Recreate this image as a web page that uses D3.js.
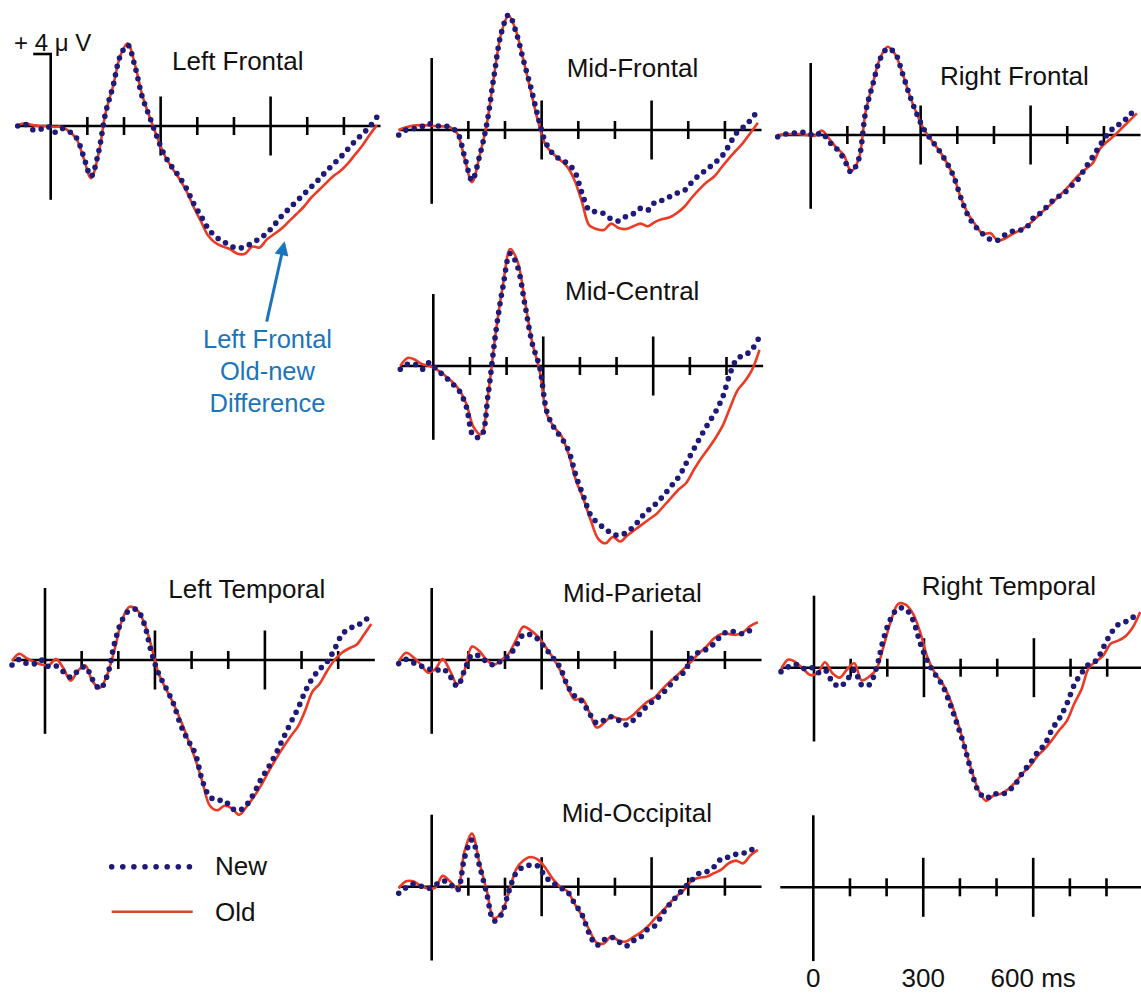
<!DOCTYPE html>
<html>
<head>
<meta charset="utf-8">
<script src="https://cdn.jsdelivr.net/npm/d3@7/dist/d3.min.js"></script>
<style>
  html, body { margin: 0; padding: 0; background: #fff; }
  svg { display: block; font-family: "Liberation Sans", Arial, Helvetica, sans-serif; }
</style>
</head>
<body>
<svg id="plot" width="1141" height="994"></svg>
<script>
// ---- Sample times (ms) shared by every waveform
const times = [-90, -70, -50, -30, -10, 10, 30, 50, 70, 90,
  110, 130, 150, 170, 190, 210, 230, 250, 270, 290,
  310, 330, 350, 370, 390, 410, 430, 450, 470, 490,
  510, 530, 550, 570, 590, 610, 630, 650, 670, 690,
  710, 730, 750, 770, 790, 810, 830, 850, 870, 890];

// ---- Amplitudes (µV, positive up)
const leftFrontalNew = [0.0, 0.1, -0.2, -0.2, 0.0, -0.35, -0.13, -0.3, -0.65, -1.7,
  -2.8, -1.5, 0.75, 2.2, 3.9, 4.5, 3.3, 1.6, 0.5, -0.6,
  -1.6, -2.25, -2.8, -3.45, -4.3, -5.0, -5.7, -6.15, -6.4, -6.65,
  -6.8, -6.7, -6.5, -6.25, -5.95, -5.5, -5.0, -4.6, -4.2, -3.8,
  -3.4, -3.0, -2.55, -2.15, -1.75, -1.3, -0.85, -0.45, -0.05, 0.5];
const leftFrontalOld = [0.05, 0.15, 0.05, 0.0, 0.0, -0.05, -0.05, -0.3, -0.7, -1.8,
  -2.9, -1.6, 0.75, 2.2, 3.9, 4.6, 3.4, 1.7, 0.5, -0.6,
  -1.6, -2.3, -2.9, -3.6, -4.5, -5.3, -6.1, -6.5, -6.7, -6.85,
  -7.1, -7.1, -6.7, -6.75, -6.3, -6.0, -5.7, -5.3, -4.9, -4.5,
  -4.0, -3.6, -3.2, -2.8, -2.5, -2.1, -1.6, -1.1, -0.5, 0.05];

const midFrontalNew = [-0.28, 0.0, 0.07, 0.15, 0.37, 0.22, 0.24, 0.15, -0.15, -1.5,
  -2.8, -1.5, 0.3, 3.0, 5.4, 6.4, 5.45, 3.9, 2.4, 0.75,
  -0.65, -1.3, -1.63, -1.85, -2.3, -3.5, -4.45, -4.55, -4.65, -4.95,
  -5.05, -4.8, -4.65, -4.35, -4.45, -4.0, -3.9, -3.7, -3.5, -3.35,
  -2.9, -2.5, -2.2, -1.85, -1.5, -0.9, -0.2, 0.15, 0.55, 1.1];
const midFrontalOld = [0.0, 0.15, 0.25, 0.27, 0.25, 0.22, 0.2, 0.15, -0.2, -1.6,
  -2.9, -1.5, 0.3, 3.0, 5.4, 6.35, 5.5, 3.9, 2.2, 0.5,
  -0.8, -1.3, -1.65, -2.05, -2.8, -4.0, -5.3, -5.5, -5.55, -5.2,
  -5.45, -5.5, -5.35, -5.2, -5.35, -5.1, -4.95, -4.85, -4.6, -4.25,
  -3.75, -3.3, -2.9, -2.6, -2.1, -1.6, -1.15, -0.7, -0.15, 0.4];

const rightFrontalNew = [-0.1, 0.05, 0.1, 0.13, 0.15, -0.05, 0.13, -0.37, -0.75, -1.3,
  -2.05, -1.4, 1.3, 2.85, 4.25, 4.8, 4.55, 3.45, 2.2, 1.15,
  0.28, -0.3, -0.85, -1.5, -2.3, -3.5, -4.5, -5.1, -5.5, -5.8,
  -5.85, -5.55, -5.35, -5.3, -5.1, -4.55, -4.3, -3.85, -3.5, -3.25,
  -2.85, -2.45, -1.8, -1.2, -0.55, 0.05, 0.45, 0.7, 1.1, 1.55];
const rightFrontalOld = [-0.05, 0.05, 0.05, 0.05, 0.0, -0.05, 0.25, -0.2, -0.7, -1.1,
  -2.0, -1.4, 1.3, 2.9, 4.3, 4.9, 4.5, 3.45, 2.2, 1.15,
  0.28, -0.3, -0.85, -1.5, -2.3, -3.5, -4.4, -5.0, -5.5, -5.45,
  -5.85, -5.75, -5.5, -5.3, -5.05, -4.7, -4.3, -3.95, -3.55, -3.15,
  -2.7, -2.25, -1.9, -1.55, -0.75, -0.35, 0.0, 0.4, 0.8, 1.2];

const midCentralNew = [-0.18, 0.1, 0.1, -0.18, 0.2, -0.22, -0.55, -0.95, -1.35, -2.25,
  -3.9, -3.9, -1.5, 1.8, 4.4, 6.25, 5.5, 3.4, 1.25, -0.05,
  -2.55, -3.45, -4.0, -4.75, -6.15, -7.25, -8.3, -8.75, -9.05, -9.35,
  -9.4, -9.2, -8.85, -8.35, -7.95, -7.6, -7.15, -6.65, -6.15, -5.4,
  -4.65, -3.9, -3.2, -2.55, -1.7, -0.4, 0.43, 0.6, 0.93, 1.63];
const midCentralOld = [0.0, 0.45, 0.35, 0.1, 0.0, -0.2, -0.5, -0.85, -1.3, -2.1,
  -3.4, -3.8, -1.5, 1.8, 4.5, 6.5, 5.8, 3.6, 1.3, -0.25,
  -2.7, -3.4, -3.9, -4.95, -6.4, -7.4, -8.6, -9.6, -9.85, -9.5,
  -9.75, -9.4, -9.1, -8.8, -8.5, -8.2, -7.75, -7.3, -6.85, -6.5,
  -5.8, -5.15, -4.6, -4.0, -3.3, -2.3, -1.35, -0.85, -0.2, 0.9];

const leftTemporalNew = [-0.28, 0.04, -0.2, -0.22, 0.0, -0.37, -0.33, -0.65, -0.95, -0.6,
  -0.37, -1.1, -1.6, -0.85, 0.95, 2.2, 2.75, 2.8, 2.05, 0.45,
  -0.75, -1.55, -2.4, -3.6, -4.45, -5.2, -6.75, -7.6, -7.8, -7.8,
  -8.25, -8.35, -8.05, -7.4, -6.6, -5.95, -5.2, -4.35, -3.5, -2.7,
  -1.75, -1.0, -0.5, -0.1, 0.6, 1.4, 1.75, 1.9, 2.15, 2.5];
const leftTemporalOld = [-0.05, 0.35, 0.1, -0.1, -0.25, -0.3, 0.05, -0.45, -1.15, -0.6,
  -0.3, -1.2, -1.55, -0.8, 0.6, 2.2, 2.95, 2.8, 2.1, 0.8,
  -0.75, -1.6, -2.4, -3.35, -4.4, -5.5, -6.8, -8.1, -8.35, -8.1,
  -8.25, -8.6, -8.15, -7.6, -6.95, -6.2, -5.5, -4.85, -4.25, -3.7,
  -2.8, -1.75, -1.3, -0.6, 0.0, 0.4, 0.65, 0.85, 1.4, 2.0];

const midParietalNew = [-0.2, 0.04, -0.15, -0.33, -0.48, -0.6, -0.48, -0.9, -1.45, -0.55,
  0.28, 0.22, -0.1, -0.28, -0.04, 0.22, 0.78, 1.4, 1.4, 1.15,
  0.65, 0.15, -0.4, -1.4, -2.0, -2.3, -2.95, -3.5, -3.35, -3.15,
  -3.35, -3.6, -3.35, -2.95, -2.5, -2.2, -1.85, -1.4, -0.95, -0.65,
  0.15, 0.45, 0.6, 0.9, 1.35, 1.6, 1.55, 1.45, 1.65, 1.65];
const midParietalOld = [-0.1, 0.4, 0.15, -0.25, -0.7, -0.5, 0.05, -0.6, -1.35, -0.55,
  0.75, 0.5, 0.0, -0.25, 0.0, 0.35, 1.1, 1.85, 1.65, 1.3,
  0.75, 0.15, -0.55, -1.45, -2.2, -2.15, -2.9, -3.75, -3.5, -3.15,
  -3.25, -3.3, -3.05, -2.65, -2.3, -2.05, -1.6, -1.2, -0.85, -0.45,
  -0.05, 0.4, 0.75, 1.2, 1.45, 1.45, 1.4, 1.55, 1.9, 2.1];

const rightTemporalNew = [-0.22, 0.05, 0.18, -0.04, 0.05, -0.28, -0.13, -0.78, -1.05, -0.68,
  -0.13, -0.96, -0.96, -0.04, 1.63, 2.75, 3.3, 3.25, 2.65, 1.35,
  0.33, -0.35, -0.96, -1.95, -3.1, -4.35, -5.8, -6.9, -7.25, -7.0,
  -7.05, -6.85, -6.45, -5.8, -5.3, -4.7, -4.25, -3.4, -2.8, -2.0,
  -0.96, -0.3, 0.2, 0.4, 1.15, 1.9, 2.4, 2.55, 2.8, 3.0];
const rightTemporalOld = [-0.1, 0.45, 0.3, -0.05, -0.4, -0.3, 0.3, -0.3, -0.55, -0.1,
  0.25, -0.7, -0.5, -0.1, 1.2, 2.6, 3.55, 3.5, 3.0, 1.95,
  0.55, -0.3, -0.85, -1.7, -2.9, -4.3, -5.7, -6.85, -7.4, -7.1,
  -7.0, -6.75, -6.35, -5.85, -5.45, -4.9, -4.5, -4.0, -3.45, -2.95,
  -2.0, -1.2, 0.0, 0.35, 0.7, 1.35, 1.5, 1.75, 2.25, 3.1];

const midOccipitalNew = [-0.37, -0.05, 0.15, 0.04, -0.1, 0.1, 0.33, 0.15, -0.2, 1.65,
  2.6, 1.2, -0.37, -1.9, -1.55, -0.28, 0.75, 1.1, 1.2, 1.15,
  0.55, 0.22, -0.05, -0.28, -0.93, -1.55, -2.6, -3.25, -2.95, -2.8,
  -3.05, -3.3, -3.0, -2.8, -2.35, -2.15, -1.5, -0.95, -0.5, -0.05,
  0.37, 0.75, 0.83, 1.1, 1.55, 1.65, 1.8, 1.85, 2.05, 2.05];
const midOccipitalOld = [-0.1, 0.3, 0.3, 0.05, -0.1, -0.05, 0.6, 0.3, -0.1, 2.0,
  2.95, 1.35, -0.2, -1.75, -1.45, -0.35, 0.95, 1.45, 1.65, 1.5,
  1.05, 0.45, 0.0, -0.25, -0.95, -1.6, -2.4, -3.1, -3.15, -2.75,
  -3.0, -3.05, -2.8, -2.55, -2.2, -1.75, -1.35, -0.9, -0.5, -0.15,
  0.35, 0.5, 0.55, 0.75, 0.95, 1.3, 1.45, 1.3, 1.75, 2.05];

// ---- Axis ticks and labels
const minorTicks = [100, 200, 400, 500, 700, 800];
const majorTicks = [300, 600];
const scaleTickValues = [0, 300, 600];
const scaleTickLabels = ['0', '300', '600 ms'];
const legendLabels = ['New', 'Old'];
const calibrationLabel = '+ 4 \u03bc V';
const annotationLines = ['Left Frontal', 'Old-new', 'Difference'];

// ---- Panel layout: zero-time x, baseline y, title placement
const panels = [
  { title: 'Left Frontal',   x0: 50.7,  y0: 126,   tx: 172,   ty: 70,    newV: leftFrontalNew,   oldV: leftFrontalOld },
  { title: 'Mid-Frontal',    x0: 431.7, y0: 130,   tx: 566.7, ty: 76.7,  newV: midFrontalNew,    oldV: midFrontalOld },
  { title: 'Right Frontal',  x0: 810.7, y0: 135,   tx: 940,   ty: 85,    newV: rightFrontalNew,  oldV: rightFrontalOld },
  { title: 'Mid-Central',    x0: 433.3, y0: 366,   tx: 565,   ty: 300,   newV: midCentralNew,    oldV: midCentralOld },
  { title: 'Left Temporal',  x0: 45,    y0: 660,   tx: 168.3, ty: 598.3, newV: leftTemporalNew,  oldV: leftTemporalOld },
  { title: 'Mid-Parietal',   x0: 431.7, y0: 660,   tx: 563,   ty: 602.3, newV: midParietalNew,   oldV: midParietalOld },
  { title: 'Right Temporal', x0: 814,   y0: 667.7, tx: 921.7, ty: 595,   newV: rightTemporalNew, oldV: rightTemporalOld },
  { title: 'Mid-Occipital',  x0: 431.7, y0: 886.7, tx: 561.7, ty: 822.3, newV: midOccipitalNew,  oldV: midOccipitalOld },
  { title: null,             x0: 813.3, y0: 887.3, newV: null, oldV: null }
];

const RED = '#ec3a24';
const NAVY = '#1e1a78';
const BLUE = '#1b75bc';
const PX_PER_MS = 0.3665;
const PX_PER_UV = 18;

const svg = d3.select('#plot');

function makeScales(p) {
  const x = d3.scaleLinear().domain([-90, 900]).range([p.x0 - 90 * PX_PER_MS, p.x0 + 900 * PX_PER_MS]);
  const y = d3.scaleLinear().domain([-4, 4]).range([p.y0 + 4 * PX_PER_UV, p.y0 - 4 * PX_PER_UV]);
  return { x, y };
}

const line = (x, y) => d3.line()
  .x((d, i) => x(times[i]))
  .y(d => y(d))
  .curve(d3.curveCatmullRom.alpha(0.5));

panels.forEach((p, k) => {
  const { x, y } = makeScales(p);
  const g = svg.append('g').attr('class', 'panel panel-' + k);

  // ---- Time axis, zero line and ticks
  g.append('line')
    .attr('x1', x(-90)).attr('x2', x(900))
    .attr('y1', y(0)).attr('y2', y(0))
    .attr('stroke', '#000').attr('stroke-width', 2.6);
  g.append('line')
    .attr('x1', x(0)).attr('x2', x(0))
    .attr('y1', y(4)).attr('y2', y(-4.1))
    .attr('stroke', '#000').attr('stroke-width', 2.6);
  g.selectAll('.minor').data(minorTicks).join('line')
    .attr('class', 'minor')
    .attr('x1', d => x(d)).attr('x2', d => x(d))
    .attr('y1', y(0) - 9).attr('y2', y(0) + 9)
    .attr('stroke', '#000').attr('stroke-width', 2.6);
  g.selectAll('.major').data(majorTicks).join('line')
    .attr('class', 'major')
    .attr('x1', d => x(d)).attr('x2', d => x(d))
    .attr('y1', y(0) - 29.5).attr('y2', y(0) + 29.5)
    .attr('stroke', '#000').attr('stroke-width', 2.6);

  // ---- Title
  if (p.title) {
    g.append('text')
      .attr('x', p.tx).attr('y', p.ty)
      .attr('font-size', 26).attr('fill', '#111')
      .text(p.title);
  }

  // ---- Waveforms: Old (solid red) below, New (navy dots) on top
  if (p.oldV) {
    g.append('path').datum(p.oldV)
      .attr('d', line(x, y))
      .attr('fill', 'none').attr('stroke', RED)
      .attr('stroke-width', 2.6).attr('stroke-linejoin', 'round');
  }
  if (p.newV) {
    g.append('path').datum(p.newV)
      .attr('d', line(x, y))
      .attr('fill', 'none').attr('stroke', NAVY)
      .attr('stroke-width', 5.6).attr('stroke-linecap', 'round')
      .attr('stroke-dasharray', '0 8.6');
  }

  // ---- Calibration bracket on the first panel
  if (k === 0) {
    g.append('line')
      .attr('x1', x(0) - 17.5).attr('x2', x(0) + 1.3)
      .attr('y1', y(4)).attr('y2', y(4))
      .attr('stroke', '#000').attr('stroke-width', 2.6);
    g.append('text')
      .attr('x', 14).attr('y', y(4) - 3)
      .attr('font-size', 24).attr('fill', '#111')
      .text(calibrationLabel);
  }

  // ---- Time labels under the empty scale panel
  if (!p.title) {
    g.selectAll('.tlabel').data(scaleTickValues).join('text')
      .attr('class', 'tlabel')
      .attr('x', d => x(d)).attr('y', 987)
      .attr('text-anchor', 'middle')
      .attr('font-size', 26).attr('fill', '#111')
      .text((d, i) => scaleTickLabels[i]);
  }
});

// ---- Annotation arrow and text
svg.append('defs').append('marker')
  .attr('id', 'arrowHead')
  .attr('viewBox', '0 0 10 10').attr('refX', 8).attr('refY', 5)
  .attr('markerUnits', 'userSpaceOnUse')
  .attr('markerWidth', 15).attr('markerHeight', 14)
  .attr('orient', 'auto')
  .append('path').attr('d', 'M0,0 L10,5 L0,10 Z').attr('fill', BLUE);

svg.append('line')
  .attr('x1', 266.7).attr('y1', 321.7)
  .attr('x2', 284).attr('y2', 244)
  .attr('stroke', BLUE).attr('stroke-width', 3)
  .attr('marker-end', 'url(#arrowHead)');

svg.selectAll('.annot').data(annotationLines).join('text')
  .attr('class', 'annot')
  .attr('x', 267.5).attr('y', (d, i) => 348.3 + i * 31.7)
  .attr('text-anchor', 'middle')
  .attr('font-size', 25.5).attr('fill', BLUE)
  .text(d => d);

// ---- Legend
const legend = svg.append('g').attr('class', 'legend');
legend.append('line')
  .attr('x1', 111.7).attr('x2', 200.5).attr('y1', 866.7).attr('y2', 866.7)
  .attr('stroke', NAVY).attr('stroke-width', 5.6)
  .attr('stroke-linecap', 'round').attr('stroke-dasharray', '0 11.1');
legend.append('line')
  .attr('x1', 111.7).attr('x2', 192.7).attr('y1', 911.7).attr('y2', 911.7)
  .attr('stroke', '#d5472e').attr('stroke-width', 2.6);
legend.selectAll('.ltext').data(legendLabels).join('text')
  .attr('class', 'ltext')
  .attr('x', 215).attr('y', (d, i) => 875 + i * 46)
  .attr('font-size', 26).attr('fill', '#111')
  .text(d => d);
</script>
</body>
</html>
